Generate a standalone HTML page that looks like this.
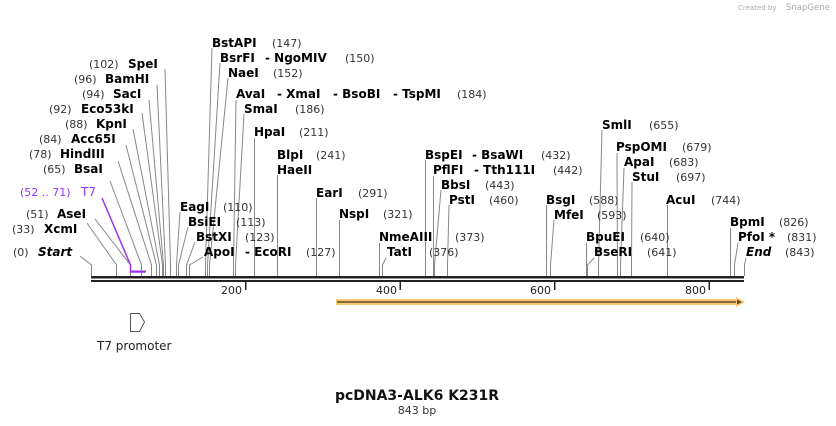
<!DOCTYPE html>
<html><head><meta charset="utf-8"><style>
html,body{margin:0;padding:0;background:#fff;width:836px;height:426px;overflow:hidden}
svg text{font-family:"DejaVu Sans","Liberation Sans",sans-serif}
.n{font-weight:bold;font-size:12px;fill:#000}
.p{font-size:11px;fill:#333}
.l{fill:none;stroke:#888;stroke-width:1}
</style></head><body>
<svg width="836" height="426" viewBox="0 0 836 426" xmlns="http://www.w3.org/2000/svg">
<text x="738" y="10" font-size="7" fill="#aaa">Created by</text><text x="786" y="10" font-size="8.5" fill="#aaa">SnapGene</text>

<g class="l">
<polyline points="80,256 91.5,265 91.5,276"/>
<polyline points="87,223 116.5,265 116.5,276"/>
<polyline points="95,219 130.5,265 130.5,276"/>
<polyline points="110,181 141.5,265 141.5,276"/>
<polyline points="118,161 151.5,265 151.5,276"/>
<polyline points="126,145 156.5,265 156.5,276"/>
<polyline points="133,129 159.5,265 159.5,276"/>
<polyline points="142,113 162.5,265 162.5,276"/>
<polyline points="149,100 163.5,265 163.5,276"/>
<polyline points="157,85 165.5,265 165.5,276"/>
<polyline points="165,69 170.5,265 170.5,276"/>
<polyline points="180,212 176.5,265 176.5,276"/>
<polyline points="188,227 178.5,265 178.5,276"/>
<polyline points="195,242 186.5,265 186.5,276"/>
<polyline points="203,257 189.5,265 189.5,276"/>
<polyline points="212,48 205.5,265 205.5,276"/>
<polyline points="220,63 207.5,265 207.5,276"/>
<polyline points="228,78 209.5,265 209.5,276"/>
<polyline points="236,100 233.5,265 233.5,276"/>
<polyline points="244,114 235.5,265 235.5,276"/>
<polyline points="254.5,138 254.5,276"/>
<polyline points="277.5,175 277.5,276"/>
<polyline points="316.5,198 316.5,276"/>
<polyline points="339.5,220 339.5,276"/>
<polyline points="379.5,243 379.5,276"/>
<polyline points="386,258 382.5,265 382.5,276"/>
<polyline points="425.5,160 425.5,276"/>
<polyline points="433.5,176 433.5,276"/>
<polyline points="441,190 434.5,265 434.5,276"/>
<polyline points="449,205 447.5,265 447.5,276"/>
<polyline points="546.5,205 546.5,276"/>
<polyline points="554,220 550.5,265 550.5,276"/>
<polyline points="602,130 598.5,265 598.5,276"/>
<polyline points="617,153 617.5,276"/>
<polyline points="624,168 620.5,265 620.5,276"/>
<polyline points="632,182 631.5,265 631.5,276"/>
<polyline points="667.5,205 667.5,276"/>
<polyline points="586.5,243 586.5,276"/>
<polyline points="594,258 587.5,265 587.5,276"/>
<polyline points="730.5,228 730.5,276"/>
<polyline points="738,243 734.5,265 734.5,276"/>
<polyline points="746,258 744.5,265 744.5,276"/>
</g>
<polyline points="102,198 130.5,265 130.5,272 145,272" fill="none" stroke="#9933ee" stroke-width="1.5"/>
<line x1="130" y1="271.5" x2="146" y2="271.5" stroke="#9933ee" stroke-width="2"/>

<rect x="91" y="276" width="653" height="2.5" fill="#222"/>
<rect x="91" y="280" width="653" height="2" fill="#222"/>
<g fill="#222">
<rect x="245" y="282" width="1.5" height="8"/><rect x="399.5" y="282" width="1.5" height="8"/>
<rect x="554" y="282" width="1.5" height="8"/><rect x="708.5" y="282" width="1.5" height="8"/>
</g>
<g font-size="11" fill="#222" text-anchor="end">
<text x="242" y="294">200</text><text x="397" y="294">400</text><text x="551" y="294">600</text><text x="706" y="294">800</text>
</g>

<rect x="336" y="299" width="404" height="6" fill="#f8c870"/>
<line x1="337" y1="302" x2="738" y2="302" stroke="#5a4a30" stroke-width="1.5"/>
<polygon points="736,297 745,302 736,307" fill="#f8c870"/>
<polygon points="737,299.5 742,302 737,304.5" fill="#5a4a30"/>

<polygon points="130.5,313.5 139.5,313.5 144.5,322 139.5,331.5 130.5,331.5" fill="#fff" stroke="#555"/>
<text x="97" y="350" font-size="12" fill="#222">T7 promoter</text>

<text class="p" x="13" y="256">(0)</text><text class="n" x="38" y="256" font-style="italic">Start</text>
<text class="p" x="12" y="233">(33)</text><text class="n" x="44" y="233">XcmI</text>
<text class="p" x="26" y="218">(51)</text><text class="n" x="57" y="218">AseI</text>
<text x="20" y="196" font-size="11" fill="#9933ee">(52 .. 71)</text><text x="81" y="196" font-size="12" fill="#9933ee">T7</text>
<text class="p" x="43" y="173">(65)</text><text class="n" x="74" y="173">BsaI</text>
<text class="p" x="29" y="158">(78)</text><text class="n" x="60" y="158">HindIII</text>
<text class="p" x="39" y="143">(84)</text><text class="n" x="71" y="143">Acc65I</text>
<text class="p" x="65" y="128">(88)</text><text class="n" x="96" y="128">KpnI</text>
<text class="p" x="49" y="113">(92)</text><text class="n" x="81" y="113">Eco53kI</text>
<text class="p" x="82" y="98">(94)</text><text class="n" x="113" y="98">SacI</text>
<text class="p" x="74" y="83">(96)</text><text class="n" x="105" y="83">BamHI</text>
<text class="p" x="89" y="68">(102)</text><text class="n" x="128" y="68">SpeI</text>

<text class="n" x="212" y="47">BstAPI</text><text class="p" x="272" y="47">(147)</text>
<text class="n" x="220" y="62">BsrFI</text><text class="n" x="265" y="62">- NgoMIV</text><text class="p" x="345" y="62">(150)</text>
<text class="n" x="228" y="77">NaeI</text><text class="p" x="273" y="77">(152)</text>
<text class="n" x="236" y="98">AvaI</text><text class="n" x="277" y="98">- XmaI</text><text class="n" x="333" y="98">- BsoBI</text><text class="n" x="393" y="98">- TspMI</text><text class="p" x="457" y="98">(184)</text>
<text class="n" x="244" y="113">SmaI</text><text class="p" x="295" y="113">(186)</text>
<text class="n" x="254" y="136">HpaI</text><text class="p" x="299" y="136">(211)</text>
<text class="n" x="277" y="159">BlpI</text><text class="p" x="316" y="159">(241)</text>
<text class="n" x="277" y="174">HaeII</text>
<text class="n" x="316" y="197">EarI</text><text class="p" x="358" y="197">(291)</text>
<text class="n" x="339" y="218">NspI</text><text class="p" x="383" y="218">(321)</text>
<text class="n" x="379" y="241">NmeAIII</text><text class="p" x="455" y="241">(373)</text>
<text class="n" x="387" y="256">TatI</text><text class="p" x="429" y="256">(376)</text>
<text class="n" x="180" y="211">EagI</text><text class="p" x="223" y="211">(110)</text>
<text class="n" x="188" y="226">BsiEI</text><text class="p" x="236" y="226">(113)</text>
<text class="n" x="196" y="241">BstXI</text><text class="p" x="245" y="241">(123)</text>
<text class="n" x="204" y="256">ApoI</text><text class="n" x="245" y="256">- EcoRI</text><text class="p" x="306" y="256">(127)</text>

<text class="n" x="425" y="159">BspEI</text><text class="n" x="472" y="159">- BsaWI</text><text class="p" x="541" y="159">(432)</text>
<text class="n" x="433" y="174">PflFI</text><text class="n" x="474" y="174">- Tth111I</text><text class="p" x="553" y="174">(442)</text>
<text class="n" x="441" y="189">BbsI</text><text class="p" x="485" y="189">(443)</text>
<text class="n" x="449" y="204">PstI</text><text class="p" x="489" y="204">(460)</text>
<text class="n" x="546" y="204">BsgI</text><text class="p" x="589" y="204">(588)</text>
<text class="n" x="554" y="219">MfeI</text><text class="p" x="597" y="219">(593)</text>
<text class="n" x="602" y="129">SmlI</text><text class="p" x="649" y="129">(655)</text>
<text class="n" x="616" y="151">PspOMI</text><text class="p" x="682" y="151">(679)</text>
<text class="n" x="624" y="166">ApaI</text><text class="p" x="669" y="166">(683)</text>
<text class="n" x="632" y="181">StuI</text><text class="p" x="676" y="181">(697)</text>
<text class="n" x="666" y="204">AcuI</text><text class="p" x="711" y="204">(744)</text>
<text class="n" x="586" y="241">BpuEI</text><text class="p" x="640" y="241">(640)</text>
<text class="n" x="594" y="256">BseRI</text><text class="p" x="647" y="256">(641)</text>
<text class="n" x="730" y="226">BpmI</text><text class="p" x="779" y="226">(826)</text>
<text class="n" x="738" y="241">PfoI *</text><text class="p" x="787" y="241">(831)</text>
<text class="n" x="746" y="256" font-style="italic">End</text><text class="p" x="785" y="256">(843)</text>

<text x="417" y="400" text-anchor="middle" font-size="14" font-weight="bold" fill="#111">pcDNA3-ALK6 K231R</text>
<text x="417" y="414" text-anchor="middle" font-size="11" fill="#333">843 bp</text>
</svg>
</body></html>
